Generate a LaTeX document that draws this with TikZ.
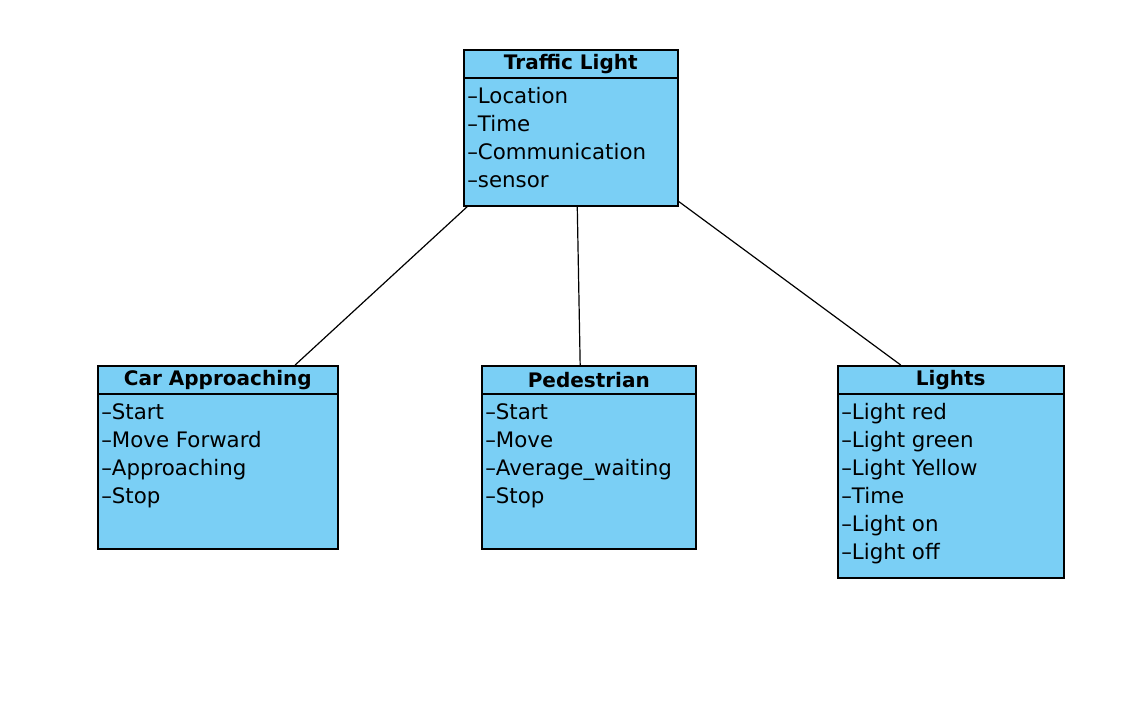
\documentclass[tikz,border=0pt]{standalone}
\usepackage{fontspec}
\setmainfont{DejaVu Sans}
\usetikzlibrary{calc}
\definecolor{classblue}{RGB}{122,207,245}
\tikzset{
    classhead/.style={draw, fill=classblue, line width=1.2pt, font=\fontsize{15}{18}\selectfont\bfseries, minimum height=21pt, inner sep=0pt, anchor=north west},
    classbody/.style={draw, fill=classblue, line width=1.2pt, inner sep=0pt, anchor=north west},
    attrs/.style={align=left, anchor=north west, inner xsep=3pt, inner ysep=7.6pt, font=\fontsize{16}{21}\selectfont},
    assoc/.style={line width=0.9pt}
}
\begin{document}
\begin{tikzpicture}[x=0.75pt, y=-0.75pt]
    \useasboundingbox (0,0) rectangle (1140,708);
    % traffic light
    \node [classbody, minimum width=160.5pt, minimum height=96pt] (tlbody) at (463,77) {};
    \node [classhead, minimum width=160.5pt] (tlhead) at (463,49) {Traffic Light};
    \node [attrs] (tlattr) at (tlbody.north west) {--Location\\--Time\\--Communication\\--sensor};
    % car approaching
    \node [classbody, minimum width=180pt, minimum height=116.25pt] (carbody) at (97,393) {};
    \node [classhead, minimum width=180pt] (carhead) at (97,365) {Car Approaching};
    \node [attrs] (carattr) at (carbody.north west) {--Start\\--Move Forward\\--Approaching\\--Stop};
    % pedestrian
    \node [classbody, minimum width=160.5pt, minimum height=116.25pt] (pedbody) at (481,393) {};
    \node [classhead, minimum width=160.5pt] (pedhead) at (481,365) {Pedestrian};
    \node [attrs] (pedattr) at (pedbody.north west) {--Start\\--Move\\--Average\_waiting\\--Stop};
    % lights
    \node [classbody, minimum width=169.5pt, minimum height=138pt] (lightbody) at (837,393) {};
    \node [classhead, minimum width=169.5pt] (lighthead) at (837,365) {Lights};
    \node [attrs] (lightattr) at (lightbody.north west) {--Light red\\--Light green\\--Light Yellow\\--Time\\--Light on\\--Light off};
    % associations
    \draw [assoc] ($(tlbody.south west)!0.02!(tlbody.south east)$) -- ($(carhead.north west)!0.82!(carhead.north east)$);
    \draw [assoc] ($(tlbody.south west)!0.53!(tlbody.south east)$) -- ($(pedhead.north west)!0.46!(pedhead.north east)$);
    \draw [assoc] ($(tlbody.south east)!0.04!(tlbody.north east)$) -- ($(lighthead.north west)!0.28!(lighthead.north east)$);
\end{tikzpicture}
\end{document}
